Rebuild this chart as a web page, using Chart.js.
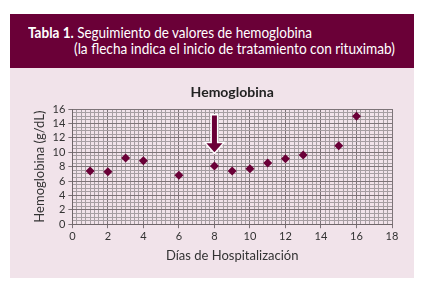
<!DOCTYPE html>
<html lang="es">
<head>
<meta charset="UTF-8" />
<title>Tabla 1 - Hemoglobina</title>
<style>
  body {
    margin: 0;
    width: 425px;
    height: 297px;
    background: #fff;
    font-family: Lato, "Open Sans", sans-serif;
    position: relative;
    overflow: hidden;
  }
  #header {
    position: absolute;
    left: 10px;
    top: 14px;
    width: 404px;
    height: 54px;
    background: #6a0037;
    color: #fff;
    font-size: 16px;
    line-height: 16px;
  }
  #header div {
    position: absolute;
    white-space: nowrap;
    transform-origin: 0 0;
  }
  #header .l1 { left: 18px; top: 10px; }
  #header .l2 { left: 64px; top: 26px; }
  #panel {
    position: absolute;
    left: 10px;
    top: 68px;
    width: 404px;
    height: 210px;
    background: #f1e3ea;
  }
  canvas { display: block; }
</style>
</head>
<body>

<div id="header">
  <div class="l1" data-w="284"><b>Tabla 1.</b> Seguimiento de valores de hemoglobina</div>
  <div class="l2" data-w="321">(la flecha indica el inicio de tratamiento con rituximab)</div>
</div>
<div id="panel"><canvas id="chart" width="404" height="210"></canvas></div>

<script src="https://cdn.jsdelivr.net/npm/chart.js"></script>
<script>
// squeeze the header lines to the narrow width of the original
document.querySelectorAll('#header div').forEach(el => {
  const w = el.getBoundingClientRect().width;
  el.style.transform = 'scaleX(' + (el.dataset.w / w) + ')';
});

const FONT = 'Lato, "Open Sans", sans-serif';

// data
const days = [1, 2, 3, 4, 6, 8, 9, 10, 11, 12, 13, 15, 16];
const hemoglobin = [7.4, 7.3, 9.2, 8.8, 6.8, 8.1, 7.4, 7.7, 8.5, 9.1, 9.6, 10.9, 15.0];

// arrow: start of rituximab
const arrowDay = 8;
const arrowFrom = 15.1;
const arrowTo = 10.0;

const wine = '#6a0037';

function isMajor(v) {
  return Math.abs(v / 2 - Math.round(v / 2)) < 1e-6;
}

const extras = {
  id: 'extras',
  afterDatasetsDraw(chart) {
    const { ctx, scales, chartArea } = chart;
    // title centred over the plot area
    ctx.save();
    ctx.fillStyle = '#222';
    ctx.font = 'bold 14px ' + FONT;
    ctx.textAlign = 'center';
    ctx.textBaseline = 'alphabetic';
    ctx.fillText('Hemoglobina', (chartArea.left + chartArea.right) / 2, 29);

    // arrow
    const x = scales.x.getPixelForValue(arrowDay);
    const y0 = scales.y.getPixelForValue(arrowFrom);
    const y1 = scales.y.getPixelForValue(arrowTo);
    const headH = 9, headW = 8, shaftW = 2.5;
    ctx.beginPath();
    ctx.moveTo(x - shaftW, y0);
    ctx.lineTo(x + shaftW, y0);
    ctx.lineTo(x + shaftW, y1 - headH);
    ctx.lineTo(x + headW, y1 - headH);
    ctx.lineTo(x, y1);
    ctx.lineTo(x - headW, y1 - headH);
    ctx.lineTo(x - shaftW, y1 - headH);
    ctx.closePath();
    ctx.lineJoin = 'miter';
    ctx.lineWidth = 3;
    ctx.strokeStyle = '#ffffff';
    ctx.stroke();
    ctx.fillStyle = wine;
    ctx.fill();
    ctx.restore();
  }
};

new Chart(document.getElementById('chart'), {
  type: 'scatter',
  data: {
    datasets: [{
      data: days.map((d, i) => ({ x: d, y: hemoglobin[i] })),
      pointStyle: 'rectRot',
      pointRadius: 4.5,
      backgroundColor: wine,
      borderColor: wine,
      borderWidth: 0
    }]
  },
  options: {
    responsive: false,
    animation: false,
    layout: { padding: { left: 18, right: 22, top: 41, bottom: 10 } },
    plugins: {
      legend: { display: false },
      tooltip: { enabled: false },
      title: { display: false }
    },
    scales: {
      x: {
        min: 0, max: 18,
        ticks: {
          stepSize: 0.25,
          autoSkip: false,
          maxRotation: 0,
          color: '#333',
          font: { family: FONT, size: 11 },
          padding: 2,
          callback: v => isMajor(v) ? String(Math.round(v)) : ''
        },
        grid: {
          color: c => isMajor(c.tick.value) ? '#7d7478' : '#a69ea2',
          tickColor: c => isMajor(c.tick.value) ? '#7d7478' : 'rgba(0,0,0,0)',
          tickLength: 4,
          lineWidth: 1
        },
        border: { color: '#6f6669' },
        title: {
          display: true,
          text: 'Días de Hospitalización',
          color: '#333',
          font: { family: FONT, size: 13 },
          padding: { top: 3 }
        }
      },
      y: {
        min: 0, max: 16,
        ticks: {
          stepSize: 0.5,
          autoSkip: false,
          color: '#333',
          font: { family: FONT, size: 11 },
          padding: 3,
          callback: v => isMajor(v) ? String(Math.round(v)) : ''
        },
        grid: {
          color: c => isMajor(c.tick.value) ? '#7d7478' : '#a69ea2',
          tickColor: c => isMajor(c.tick.value) ? '#7d7478' : 'rgba(0,0,0,0)',
          tickLength: 4,
          lineWidth: 1
        },
        border: { color: '#6f6669' },
        title: {
          display: true,
          text: 'Hemoglobina (g/dL)',
          color: '#333',
          font: { family: FONT, size: 13 },
          padding: { bottom: 2 }
        }
      }
    }
  },
  plugins: [extras]
});
</script>
</body>
</html>
